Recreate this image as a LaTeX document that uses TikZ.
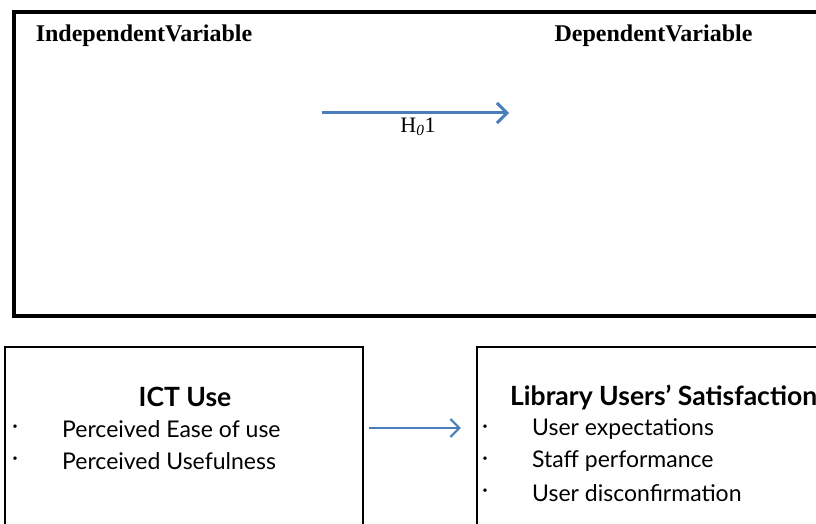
\documentclass[tikz,border=0pt]{standalone}
\usepackage{fontspec}
\setmainfont{Liberation Serif}
\newfontfamily\gill{Lato}
\usetikzlibrary{arrows.meta}
\definecolor{arrowblue}{HTML}{4A7EBB}
\tikzset{
  box/.style={draw=black, rectangle, inner sep=0pt},
  toplabel/.style={font=\fontsize{24}{28}\selectfont\bfseries, inner sep=0pt},
  head/.style={font=\gill\fontsize{26.5}{30}\selectfont\bfseries, inner sep=0pt},
  item/.style={font=\gill\fontsize{23}{26}\selectfont, inner sep=0pt, anchor=west},
  dotmark/.style={font=\gill\fontsize{23}{26}\selectfont, inner sep=0pt},
  bluearrow/.style={draw=arrowblue, -{Straight Barb[length=#1pt, width=2*#1pt]}},
}
\begin{document}
\begin{tikzpicture}[x=1pt, y=-1pt]
\useasboundingbox (0,0) rectangle (816,524);
\fill[white] (0,0) rectangle (816,524);
\clip (0,0) rectangle (816,524);
% boxes
\node[box, line width=4pt, minimum width=826pt, minimum height=304pt] (topbox) at (427,164) {};
\node[box, line width=2.5pt, minimum width=358pt, minimum height=220pt] (leftbox) at (184,457) {};
\node[box, line width=2.5pt, minimum width=420pt, minimum height=220pt] (rightbox) at (687,457) {};
% top labels
\node[toplabel] (iv) at (144,36) {IndependentVariable};
\node[toplabel] (dv) at (653.5,36) {DependentVariable};
\coordinate (hs) at (322,113);
\coordinate (he) at (509,113);
\draw[bluearrow=10, line width=3pt] (hs) -- (he);
\node[font=\fontsize{22}{26}\selectfont, inner sep=0pt] (hlab) at (418,127) {H\textsubscript{\itshape 0}1};
% bottom
\node[head] (ict) at (185,397) {ICT Use};
\node[head, anchor=west] (lus) at (510,397) {Library Users’ Satisfaction};
\node[dotmark] (b1) at (15,429) {·};
\node[item] (p1) at (62,429) {Perceived Ease of use};
\node[dotmark] (b2) at (15,461) {·};
\node[item] (p2) at (62,461) {Perceived Usefulness};
\node[dotmark] (r1d) at (485,429) {·};
\node[item] (r1) at (532,429) {User expectations};
\node[dotmark] (r2d) at (485,461) {·};
\node[item] (r2) at (532,461) {Staff performance};
\node[dotmark] (r3d) at (485,493) {·};
\node[item] (r3) at (532,493) {User disconfirmation};
\coordinate (ay) at (0,428);
\draw[bluearrow=9, line width=2pt] ([xshift=5pt]leftbox.east |- ay) -- ([xshift=-15pt]rightbox.west |- ay);
\end{tikzpicture}
\end{document}
